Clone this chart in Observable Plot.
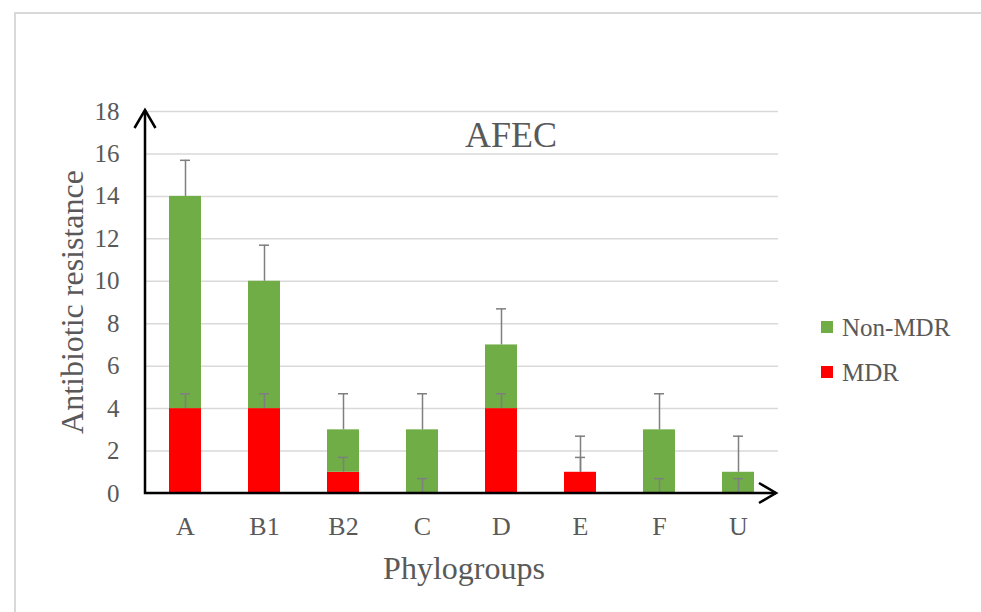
<!DOCTYPE html>
<html>
<head>
<meta charset="utf-8">
<script src="https://cdn.jsdelivr.net/npm/d3@7"></script>
<script src="https://cdn.jsdelivr.net/npm/@observablehq/plot@0.6"></script>
<style>
html, body { margin: 0; padding: 0; background: #fff; width: 981px; height: 612px; overflow: hidden; }
#wrap { position: relative; width: 981px; height: 612px; }
#frame { position: absolute; left: 14px; top: 12px; width: 1000px; height: 700px; border: 2px solid #d9d9d9; box-sizing: border-box; }
#chart { position: absolute; left: 0; top: 0; }
</style>
</head>
<body>
<div id="wrap"><div id="frame"></div><div id="chart"></div></div>
<script>
// ---- data ----
const groups = ["A", "B1", "B2", "C", "D", "E", "F", "U"];
const mdr = [4, 4, 1, 0, 4, 1, 0, 0];
const nonMdr = [10, 6, 2, 3, 3, 0, 3, 1];
const mdrErr = [0.7, 0.7, 0.7, 0.7, 0.7, 0.7, 0.7, 0.7];
const nonMdrErr = [1.7, 1.7, 1.7, 1.7, 1.7, 1.7, 1.7, 1.7];
const seriesNames = ["MDR", "Non-MDR"];
const seriesColors = ["#FF0000", "#70AD47"];
const yTicks = [0, 2, 4, 6, 8, 10, 12, 14, 16, 18];
const titleText = "AFEC";
const xLabel = "Phylogroups";
const yLabel = "Antibiotic resistance";

// ---- tables built from the arrays ----
const bars = [];
const errs = [];
groups.forEach((g, i) => {
  bars.push({group: g, series: "MDR", y1: 0, y2: mdr[i]});
  bars.push({group: g, series: "Non-MDR", y1: mdr[i], y2: mdr[i] + nonMdr[i]});
  errs.push({group: g, top: mdr[i], hi: mdr[i] + mdrErr[i]});
  errs.push({group: g, top: mdr[i] + nonMdr[i], hi: mdr[i] + nonMdr[i] + nonMdrErr[i]});
});

const FONT = "'Liberation Serif', 'Times New Roman', serif";
const GREY = "#595959";

const chart = Plot.plot({
  width: 981,
  height: 612,
  marginLeft: 145,
  marginRight: 203,
  marginTop: 111,
  marginBottom: 119,
  style: {fontFamily: FONT, fontSize: "25px", color: GREY, background: "transparent", overflow: "visible"},
  x: {domain: groups, paddingInner: 0.6, paddingOuter: 0.3, label: null},
  y: {domain: [0, 18], ticks: yTicks, label: null},
  color: {domain: seriesNames, range: seriesColors},
  marks: [
    Plot.gridY(yTicks, {stroke: "#d9d9d9", strokeOpacity: 1, strokeWidth: 1.5}),
    Plot.barY(bars, {x: "group", y1: "y1", y2: "y2", fill: "series"}),
    Plot.ruleX(errs, {x: "group", y1: "top", y2: "hi", stroke: "#7f7f7f", strokeWidth: 1.5}),
    Plot.tickY(errs, {x: "group", y: "hi", stroke: "#7f7f7f", strokeWidth: 1.5, insetLeft: 11, insetRight: 11}),
    Plot.axisY(yTicks, {tickSize: 0, tickPadding: 26, label: null, fontSize: 25, fill: GREY}),
    Plot.axisX({tickSize: 0, tickPadding: 23, label: null, fontSize: 26, fill: GREY})
  ]
});
document.getElementById("chart").appendChild(chart);

// ---- axes with arrowheads, positioned through the scales ----
const xs = chart.scale("x");
const ys = chart.scale("y");
const xL = xs.range[0], xR = xs.range[1] - 2;
const yB = ys.apply(0), yT = ys.apply(18) - 1;
const svg = d3.select(chart);
const ax = svg.append("g").attr("fill", "none").attr("stroke", "black").attr("stroke-width", 2.5).attr("stroke-linejoin", "miter");
ax.append("path").attr("d", `M${xL},${yT}L${xL},${yB}L${xR},${yB}`);
ax.append("path").attr("d", `M${xL - 10.5},${yT + 18}L${xL},${yT}L${xL + 10.5},${yT + 18}`);
ax.append("path").attr("d", `M${xR - 17},${yB - 10}L${xR},${yB}L${xR - 17},${yB + 10}`);

// ---- texts: title, axis titles, legend ----
const t = svg.append("g").attr("font-family", FONT).attr("fill", GREY);
t.append("text").attr("x", 511).attr("y", 147).attr("text-anchor", "middle").attr("font-size", 36).text(titleText);
t.append("text").attr("x", 464).attr("y", 579).attr("text-anchor", "middle").attr("font-size", 32).text(xLabel);
t.append("text").attr("transform", "translate(83,302) rotate(-90)").attr("text-anchor", "middle").attr("font-size", 32).text(yLabel);

const legendOrder = [1, 0];
legendOrder.forEach((si, k) => {
  const cy = 327 + k * 45;
  t.append("rect").attr("x", 821).attr("y", cy - 6).attr("width", 12).attr("height", 12).attr("fill", seriesColors[si]);
  t.append("text").attr("x", 842).attr("y", cy + 9).attr("text-anchor", "start").attr("font-size", 25).text(seriesNames[si]);
});
</script>
</body>
</html>
